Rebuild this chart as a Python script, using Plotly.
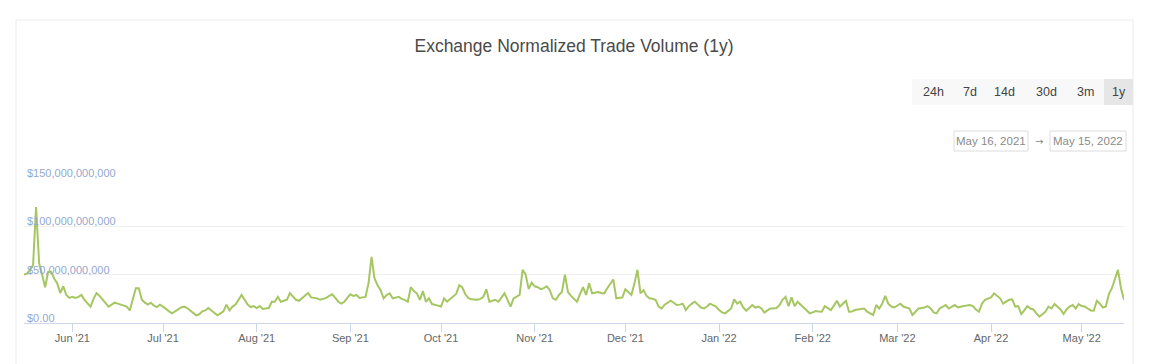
import pandas as pd
import plotly.graph_objects as go

# Daily normalized trade volume, in billions of USD (May 16, 2021 -> May 15, 2022)
volume_billions = [
    50, 51, 55, 60, 120, 62, 50, 37, 53, 53,
    46, 41, 31, 38, 29, 26, 27, 26, 27, 29,
    24, 21, 17, 25, 31, 28, 24, 21, 17, 19,
    21, 20, 19, 18, 17, 13, 24, 36, 36, 24,
    21, 19, 21, 18, 16.5, 19, 17, 14, 12, 10,
    12, 14, 16, 17, 15.5, 13, 10, 8, 9, 12,
    13, 15.5, 13, 10, 8, 10, 12, 19, 13, 17,
    19, 24, 29, 24, 19, 16.5, 17.5, 15.5, 17.5, 14.5,
    15, 15.5, 22, 22, 27, 22, 23, 24, 31, 27,
    24, 23, 26, 28, 31, 26.5, 26, 25.5, 24, 25,
    26, 28, 29.7, 26, 22, 20, 22, 26, 29.7, 28,
    29, 26, 26.5, 27, 41, 68.5, 46, 39, 34, 25.5,
    29, 30.7, 25.5, 26, 27, 25, 24, 22, 37, 33,
    30.7, 24, 33, 22, 25.5, 19.6, 19, 18, 17, 25.5,
    22, 25, 27, 30, 39, 37, 30, 26, 24.5, 24,
    24, 25, 27, 35, 22, 23, 24, 22, 26, 30.7,
    24, 17, 25.5, 27, 29, 55, 50, 35, 41.7, 38,
    37, 35, 36, 38, 34, 25.5, 24, 29, 32, 50,
    32, 28, 24.5, 22, 30, 37, 29, 41, 30.7, 31,
    32, 31, 30.7, 36, 41, 45, 25.5, 26, 26.5, 35,
    32, 29, 41, 55, 30.7, 34, 28, 25.5, 25, 24,
    17, 15, 19, 21, 23, 21, 18.6, 19, 20, 13.4,
    17.5, 20, 22, 19, 16, 15, 17, 20, 18.5, 17,
    13.4, 11, 10, 13, 15, 24.5, 20, 22, 16, 12.7,
    16, 18.6, 16, 17, 15, 10.7, 13, 15, 15, 15.5,
    18.6, 24, 27, 17.5, 26.5, 17.5, 22, 19, 17, 13,
    10, 11, 12.4, 12, 11.7, 17.5, 15, 13.4, 18, 23,
    17, 20, 23, 11.7, 12, 13.4, 14, 15, 15, 11.7,
    10, 8.3, 18.6, 15, 20, 28, 20, 17, 16, 18,
    20, 17, 16, 15, 8.3, 12, 15, 15.5, 16, 17.5,
    15, 11, 10, 15, 17, 18.6, 15, 17, 18.6, 16,
    17, 17.5, 18, 18.6, 17.5, 14, 11.7, 20, 24, 25.5,
    26.5, 30.7, 28, 25.5, 20, 22, 24, 24.5, 17, 17.5,
    9.3, 13, 17.5, 15, 14, 10, 6.5, 9, 11.7, 17,
    15, 19.6, 17, 14, 9.3, 14, 17, 18.6, 15, 19.6,
    17.5, 17, 15, 13, 12.7, 23, 20, 16, 17, 30,
    36, 45, 55, 36, 24,
]
start_date = "2021-05-16"
end_date = "2022-05-15"
y_tick_values = [0, 50e9, 100e9, 150e9]
y_tick_labels = ["$0.00", "$50,000,000,000", "$100,000,000,000", "$150,000,000,000"]
range_buttons = ["24h", "7d", "14d", "30d", "3m", "1y"]
selected_button = "1y"
date_from_label = "May 16, 2021"
date_to_label = "May 15, 2022"
title_text = "Exchange Normalized Trade Volume (1y)"

dates = pd.date_range(start_date, periods=len(volume_billions), freq="D")
values = [v * 1e9 for v in volume_billions]

W, H = 1149, 364
ML, MR, MT, MB = 24, 25, 178, 41
PW, PH = W - ML - MR, H - MT - MB


def px(x):
    return (x - ML) / PW


def py(y):
    return (H - MB - y) / PH


FONT = "Liberation Sans, Arial, sans-serif"

fig = go.Figure()
fig.add_trace(go.Scatter(
    x=dates, y=values, mode="lines",
    line=dict(color="#a6c662", width=2),
    hoverinfo="x+y", showlegend=False,
))

shapes = []
annotations = []

# card border
shapes.append(dict(type="rect", xref="paper", yref="paper",
                   x0=px(16), x1=px(1133), y0=py(380), y1=py(20),
                   line=dict(color="#ececec", width=1), fillcolor="rgba(0,0,0,0)", layer="below"))

# range buttons
btn_centers = [933, 970, 1004, 1046, 1085, 1119]
shapes.append(dict(type="rect", xref="paper", yref="paper",
                   x0=px(912), x1=px(1133), y0=py(105), y1=py(79),
                   line=dict(width=0), fillcolor="#f8f8f8", layer="below"))
for label, cx in zip(range_buttons, btn_centers):
    if label == selected_button:
        shapes.append(dict(type="rect", xref="paper", yref="paper",
                           x0=px(1104), x1=px(1133), y0=py(105), y1=py(79),
                           line=dict(width=0), fillcolor="#e6e6e6", layer="below"))
    annotations.append(dict(text=label, xref="paper", yref="paper", x=px(cx), y=py(92),
                            xanchor="center", yanchor="middle", showarrow=False,
                            font=dict(family=FONT, size=12.5, color="#444444")))

# date inputs
for x0, x1, lab in [(954, 1028, date_from_label), (1050, 1126, date_to_label)]:
    shapes.append(dict(type="rect", xref="paper", yref="paper",
                       x0=px(x0), x1=px(x1), y0=py(151), y1=py(131),
                       line=dict(color="#dcdcdc", width=1), fillcolor="white"))
    annotations.append(dict(text=lab, xref="paper", yref="paper", x=px((x0 + x1) / 2), y=py(141),
                            xanchor="center", yanchor="middle", showarrow=False,
                            font=dict(family=FONT, size=11.5, color="#8a8a8a")))
annotations.append(dict(text="→", xref="paper", yref="paper", x=px(1039), y=py(141),
                        xanchor="center", yanchor="middle", showarrow=False,
                        font=dict(family="DejaVu Sans, sans-serif", size=10, color="#888888")))

fig.update_layout(
    width=W, height=H,
    margin=dict(l=ML, r=MR, t=MT, b=MB, pad=0),
    paper_bgcolor="white", plot_bgcolor="white",
    title=dict(text=title_text, x=0.5, xref="paper", xanchor="center",
               y=1 - 46 / H, yref="container", yanchor="middle",
               font=dict(family=FONT, size=17.5, color="#4a4a4a")),
    xaxis=dict(
        type="date", range=[start_date, end_date],
        tick0="2021-06-01", dtick="M1", tickformat="%b '%y",
        ticks="outside", ticklen=8, tickcolor="#ccd6eb", tickwidth=1,
        ticklabelstandoff=-3,
        showgrid=False, showline=True, linecolor="#ccd6eb", linewidth=1,
        zeroline=False,
        tickfont=dict(family=FONT, size=11, color="#666666"),
        fixedrange=True,
    ),
    yaxis=dict(
        range=[0, 150e9], tickvals=y_tick_values, ticktext=y_tick_labels,
        ticklabelposition="inside top", ticklabeloverflow="allow",
        ticklabelshift=3,
        showgrid=True, gridcolor="#f0f0f0", zeroline=False, showline=False,
        ticks="", tickfont=dict(family=FONT, size=11, color="#95a7cf"),
        fixedrange=True,
    ),
    shapes=shapes,
    annotations=annotations,
    font=dict(family=FONT),
)

fig.write_html("out.html")
